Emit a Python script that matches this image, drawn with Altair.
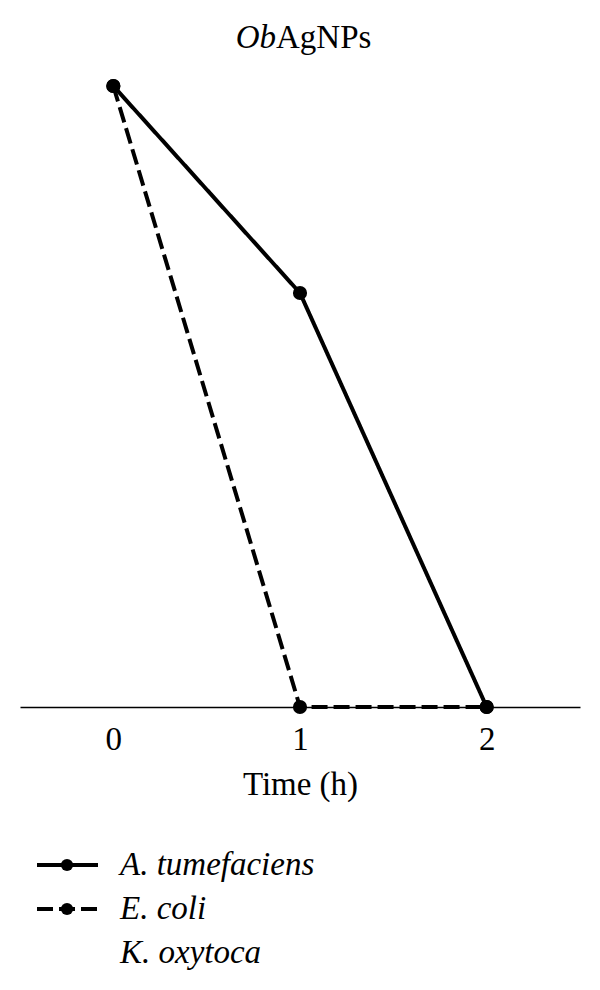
import altair as alt
import pandas as pd

# ---- data ----
series = ["A. tumefaciens", "E. coli", "K. oxytoca"]
drawn_series = ["A. tumefaciens", "E. coli"]
times = [0, 1, 2]
a_tumefaciens = [6, 4, 0]
e_coli = [6, 0, 0]
tick_values = [0, 1, 2]
title_italic = "Ob"
title_plain = "AgNPs"
x_title = "Time (h)"

FONT = "Liberation Serif"
FS = 33

df = pd.DataFrame(
    [{"time": t, "value": v, "series": series[0]} for t, v in zip(times, a_tumefaciens)]
    + [{"time": t, "value": v, "series": series[1]} for t, v in zip(times, e_coli)]
)

dash_scale = alt.Scale(domain=series, range=[[1, 0], [16, 6], [1, 0]])

x_enc = alt.X(
    "time:Q",
    scale=alt.Scale(domain=[-0.5, 2.5], nice=False, zero=False),
    axis=alt.Axis(
        values=tick_values, format="d", ticks=False, grid=False,
        domainColor="black", domainWidth=1.5,
        labelFont=FONT, labelFontSize=FS, labelColor="black", labelPadding=16,
        title=x_title, titleFont=FONT, titleFontSize=FS, titleFontWeight="normal",
        titleColor="black", titlePadding=12,
    ),
)
y_enc = alt.Y("value:Q", scale=alt.Scale(domain=[0, 6], nice=False), axis=None)

lines = alt.Chart(df).mark_line(color="black", strokeWidth=4).encode(
    x=x_enc, y=y_enc,
    strokeDash=alt.StrokeDash("series:N", scale=dash_scale, legend=None),
    detail="series:N",
)
points = alt.Chart(df).mark_circle(color="black", size=200, opacity=1).encode(
    x=x_enc, y=y_enc
)

t1 = alt.Chart(pd.DataFrame({"t": [title_italic]})).mark_text(
    font=FONT, fontSize=FS, fontStyle="italic", align="right", baseline="middle", color="black"
).encode(text="t:N", x=alt.value(256), y=alt.value(-48))
t2 = alt.Chart(pd.DataFrame({"t": [title_plain]})).mark_text(
    font=FONT, fontSize=FS, align="left", baseline="middle", color="black"
).encode(text="t:N", x=alt.value(256), y=alt.value(-48))

main = alt.layer(lines, points, t1, t2).properties(width=560, height=621)

# ---- legend panel ----
leg = pd.DataFrame({"series": series})
ly = alt.Y("series:N", axis=None, scale=alt.Scale(domain=series), sort=series)
leg_dash = alt.Scale(domain=series, range=[[1, 0], [16, 7], [1, 0]])
only_drawn = alt.FieldOneOfPredicate(field="series", oneOf=drawn_series)

lrule = alt.Chart(leg).transform_filter(only_drawn).mark_rule(
    color="black", strokeWidth=4
).encode(
    x=alt.value(17), x2=alt.value(78), y=ly,
    strokeDash=alt.StrokeDash("series:N", scale=leg_dash, legend=None),
)
lpt = alt.Chart(leg).transform_filter(only_drawn).mark_circle(
    color="black", size=150, opacity=1
).encode(x=alt.value(47), y=ly)
ltxt = alt.Chart(leg).mark_text(
    font=FONT, fontSize=FS, fontStyle="italic", align="left", baseline="middle", color="black"
).encode(text="series:N", x=alt.value(100), y=ly)

legend = alt.layer(lrule, lpt, ltxt).properties(width=560, height=132)

chart = (
    alt.vconcat(main, legend, spacing=42)
    .properties(padding={"left": 12, "top": 14, "right": 5, "bottom": 5},
                background="white")
    .configure_view(stroke=None)
)

chart.save("out.html", embed_options={"renderer": "svg", "actions": False})
